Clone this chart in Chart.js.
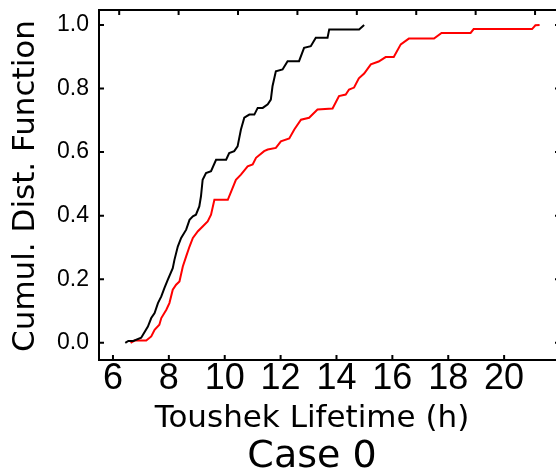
<!DOCTYPE html>
<html>
<head>
<meta charset="utf-8">
<script src="https://cdn.jsdelivr.net/npm/chart.js@4"></script>
<style>
    html, body { margin: 0; padding: 0; background: #fff; }
    #wrap { width: 556px; height: 472px; overflow: hidden; }
</style>
</head>
<body>
<div id="wrap"><canvas id="cdfChart" width="566" height="472"></canvas></div>
<script>
// Black curve: lifetime (h) and cumulative fraction at each corner
const blackLifetime = [6.44, 6.55, 6.73, 7.01, 7.25, 7.37, 7.49, 7.61, 7.73, 7.84, 7.96, 8.14, 8.20, 8.32, 8.44, 8.62, 8.74, 8.86, 8.97, 9.09, 9.15, 9.21, 9.33, 9.51, 9.69, 10.05, 10.16, 10.34, 10.46, 10.58, 10.70, 10.88, 11.06, 11.18, 11.36, 11.54, 11.65, 11.71, 11.83, 12.07, 12.25, 12.66, 12.84, 13.08, 13.26, 13.68, 13.74, 14.81, 14.99];
const blackCdf = [0.000, 0.006, 0.006, 0.016, 0.051, 0.078, 0.094, 0.125, 0.146, 0.172, 0.198, 0.235, 0.261, 0.303, 0.330, 0.356, 0.387, 0.398, 0.403, 0.429, 0.461, 0.513, 0.534, 0.540, 0.576, 0.576, 0.597, 0.603, 0.618, 0.671, 0.708, 0.718, 0.718, 0.739, 0.739, 0.750, 0.765, 0.807, 0.854, 0.860, 0.886, 0.886, 0.928, 0.933, 0.960, 0.960, 0.986, 0.986, 1.000];

// Red curve
const redLifetime = [6.63, 6.77, 7.19, 7.37, 7.49, 7.66, 7.73, 7.91, 8.02, 8.14, 8.26, 8.38, 8.50, 8.62, 8.74, 8.86, 9.04, 9.21, 9.39, 9.51, 9.63, 10.11, 10.40, 10.58, 10.82, 11.00, 11.12, 11.41, 11.54, 11.83, 12.01, 12.31, 12.49, 12.73, 13.02, 13.32, 13.86, 14.09, 14.33, 14.45, 14.63, 14.80, 14.99, 15.23, 15.51, 15.76, 16.05, 16.30, 16.59, 17.49, 17.76, 18.80, 18.91, 21.00, 21.12, 21.27];
const redCdf = [0.000, 0.007, 0.007, 0.020, 0.041, 0.057, 0.078, 0.104, 0.125, 0.167, 0.183, 0.193, 0.240, 0.272, 0.303, 0.330, 0.351, 0.366, 0.382, 0.403, 0.450, 0.450, 0.513, 0.529, 0.555, 0.561, 0.582, 0.603, 0.608, 0.613, 0.634, 0.643, 0.671, 0.702, 0.708, 0.734, 0.737, 0.776, 0.781, 0.797, 0.803, 0.832, 0.847, 0.876, 0.885, 0.899, 0.899, 0.939, 0.957, 0.957, 0.975, 0.975, 0.987, 0.987, 0.999, 1.000];

// Tick values
const xTicks = [6, 8, 10, 12, 14, 16, 18, 20];
const yTicks = [0.0, 0.2, 0.4, 0.6, 0.8, 1.0];
const topTicks = [0, 1, 2, 3, 4, 5, 6, 7];

const xTitle = 'Toushek Lifetime (h)';
const yTitle = 'Cumul. Dist. Function';
const caseTitle = 'Case 0';

function toPoints(xs, ys) {
    return xs.map((x, i) => ({ x: x, y: ys[i] }));
}

// fix a scale's size and drop the label overhang padding
function fixSize(prop, size) {
    return s => {
        s[prop] = size;
        s.paddingLeft = 0;
        s.paddingRight = 0;
        s.paddingTop = 0;
        s.paddingBottom = 0;
    };
}

// Inward tick marks on all four sides, plus the axis titles
const frameExtras = {
    id: 'frameExtras',
    afterDraw(chart) {
        const { ctx, chartArea: a, scales } = chart;
        ctx.save();
        ctx.strokeStyle = '#000';
        ctx.lineWidth = 2;
        ctx.beginPath();
        xTicks.forEach(v => {
            const px = scales.x.getPixelForValue(v);
            ctx.moveTo(px, a.bottom);
            ctx.lineTo(px, a.bottom - 5);
        });
        topTicks.forEach(v => {
            const px = scales.x2.getPixelForValue(v);
            ctx.moveTo(px, a.top);
            ctx.lineTo(px, a.top + 5);
        });
        yTicks.forEach(v => {
            const py = scales.y.getPixelForValue(v);
            ctx.moveTo(a.left, py);
            ctx.lineTo(a.left + 5, py);
            ctx.moveTo(a.right, py);
            ctx.lineTo(a.right - 5, py);
        });
        ctx.stroke();

        ctx.fillStyle = '#000';
        ctx.textAlign = 'center';
        ctx.textBaseline = 'alphabetic';
        ctx.font = '31px "DejaVu Sans"';
        ctx.fillText(xTitle, 312, 427);
        ctx.font = '38px "DejaVu Sans"';
        ctx.fillText(caseTitle, 312, 467);

        ctx.translate(34, 186);
        ctx.rotate(-Math.PI / 2);
        ctx.font = '31px "DejaVu Sans"';
        ctx.fillText(yTitle, 0, 0);
        ctx.restore();
    }
};

const ctx = document.getElementById('cdfChart').getContext('2d');
const chart = new Chart(ctx, {
    type: 'line',
    data: {
        datasets: [{
            data: toPoints(blackLifetime, blackCdf),
            borderColor: '#000000',
            borderWidth: 2,
            pointRadius: 0,
            tension: 0
        }, {
            data: toPoints(redLifetime, redCdf),
            borderColor: '#ff0000',
            borderWidth: 2,
            pointRadius: 0,
            tension: 0
        }]
    },
    options: {
        responsive: false,
        animation: false,
        events: [],
        layout: { padding: 0 },
        plugins: {
            legend: { display: false },
            tooltip: { enabled: false }
        },
        scales: {
            x: {
                type: 'linear',
                position: 'bottom',
                min: 5.5,
                max: 22,
                afterBuildTicks: s => { s.ticks = xTicks.map(v => ({ value: v })); },
                afterFit: fixSize('height', 112),
                grid: { display: false, drawTicks: false },
                border: { display: true, color: '#000', width: 2 },
                ticks: {
                    autoSkip: false,
                    maxRotation: 0,
                    padding: 1,
                    color: '#000',
                    font: { family: '"Liberation Sans", Arial', size: 36, lineHeight: 1 }
                }
            },
            x2: {
                type: 'linear',
                position: 'top',
                min: -0.34,
                max: 7.42,
                afterBuildTicks: s => { s.ticks = topTicks.map(v => ({ value: v })); },
                afterFit: fixSize('height', 10),
                grid: { display: false, drawTicks: false },
                border: { display: true, color: '#000', width: 2 },
                ticks: { display: false }
            },
            y: {
                type: 'linear',
                position: 'left',
                min: -0.054,
                max: 1.047,
                afterBuildTicks: s => { s.ticks = yTicks.map(v => ({ value: v })); },
                afterFit: fixSize('width', 99),
                grid: { display: false, drawTicks: false },
                border: { display: true, color: '#000', width: 2 },
                ticks: {
                    padding: 10,
                    color: '#000',
                    font: { family: '"Liberation Sans", Arial', size: 23 },
                    callback: v => v.toFixed(1)
                }
            },
            y2: {
                type: 'linear',
                position: 'right',
                min: -0.054,
                max: 1.047,
                afterFit: fixSize('width', 6),
                grid: { display: false, drawTicks: false },
                border: { display: true, color: '#000', width: 2 },
                ticks: { display: false }
            }
        }
    },
    plugins: [frameExtras]
});
</script>
</body>
</html>
